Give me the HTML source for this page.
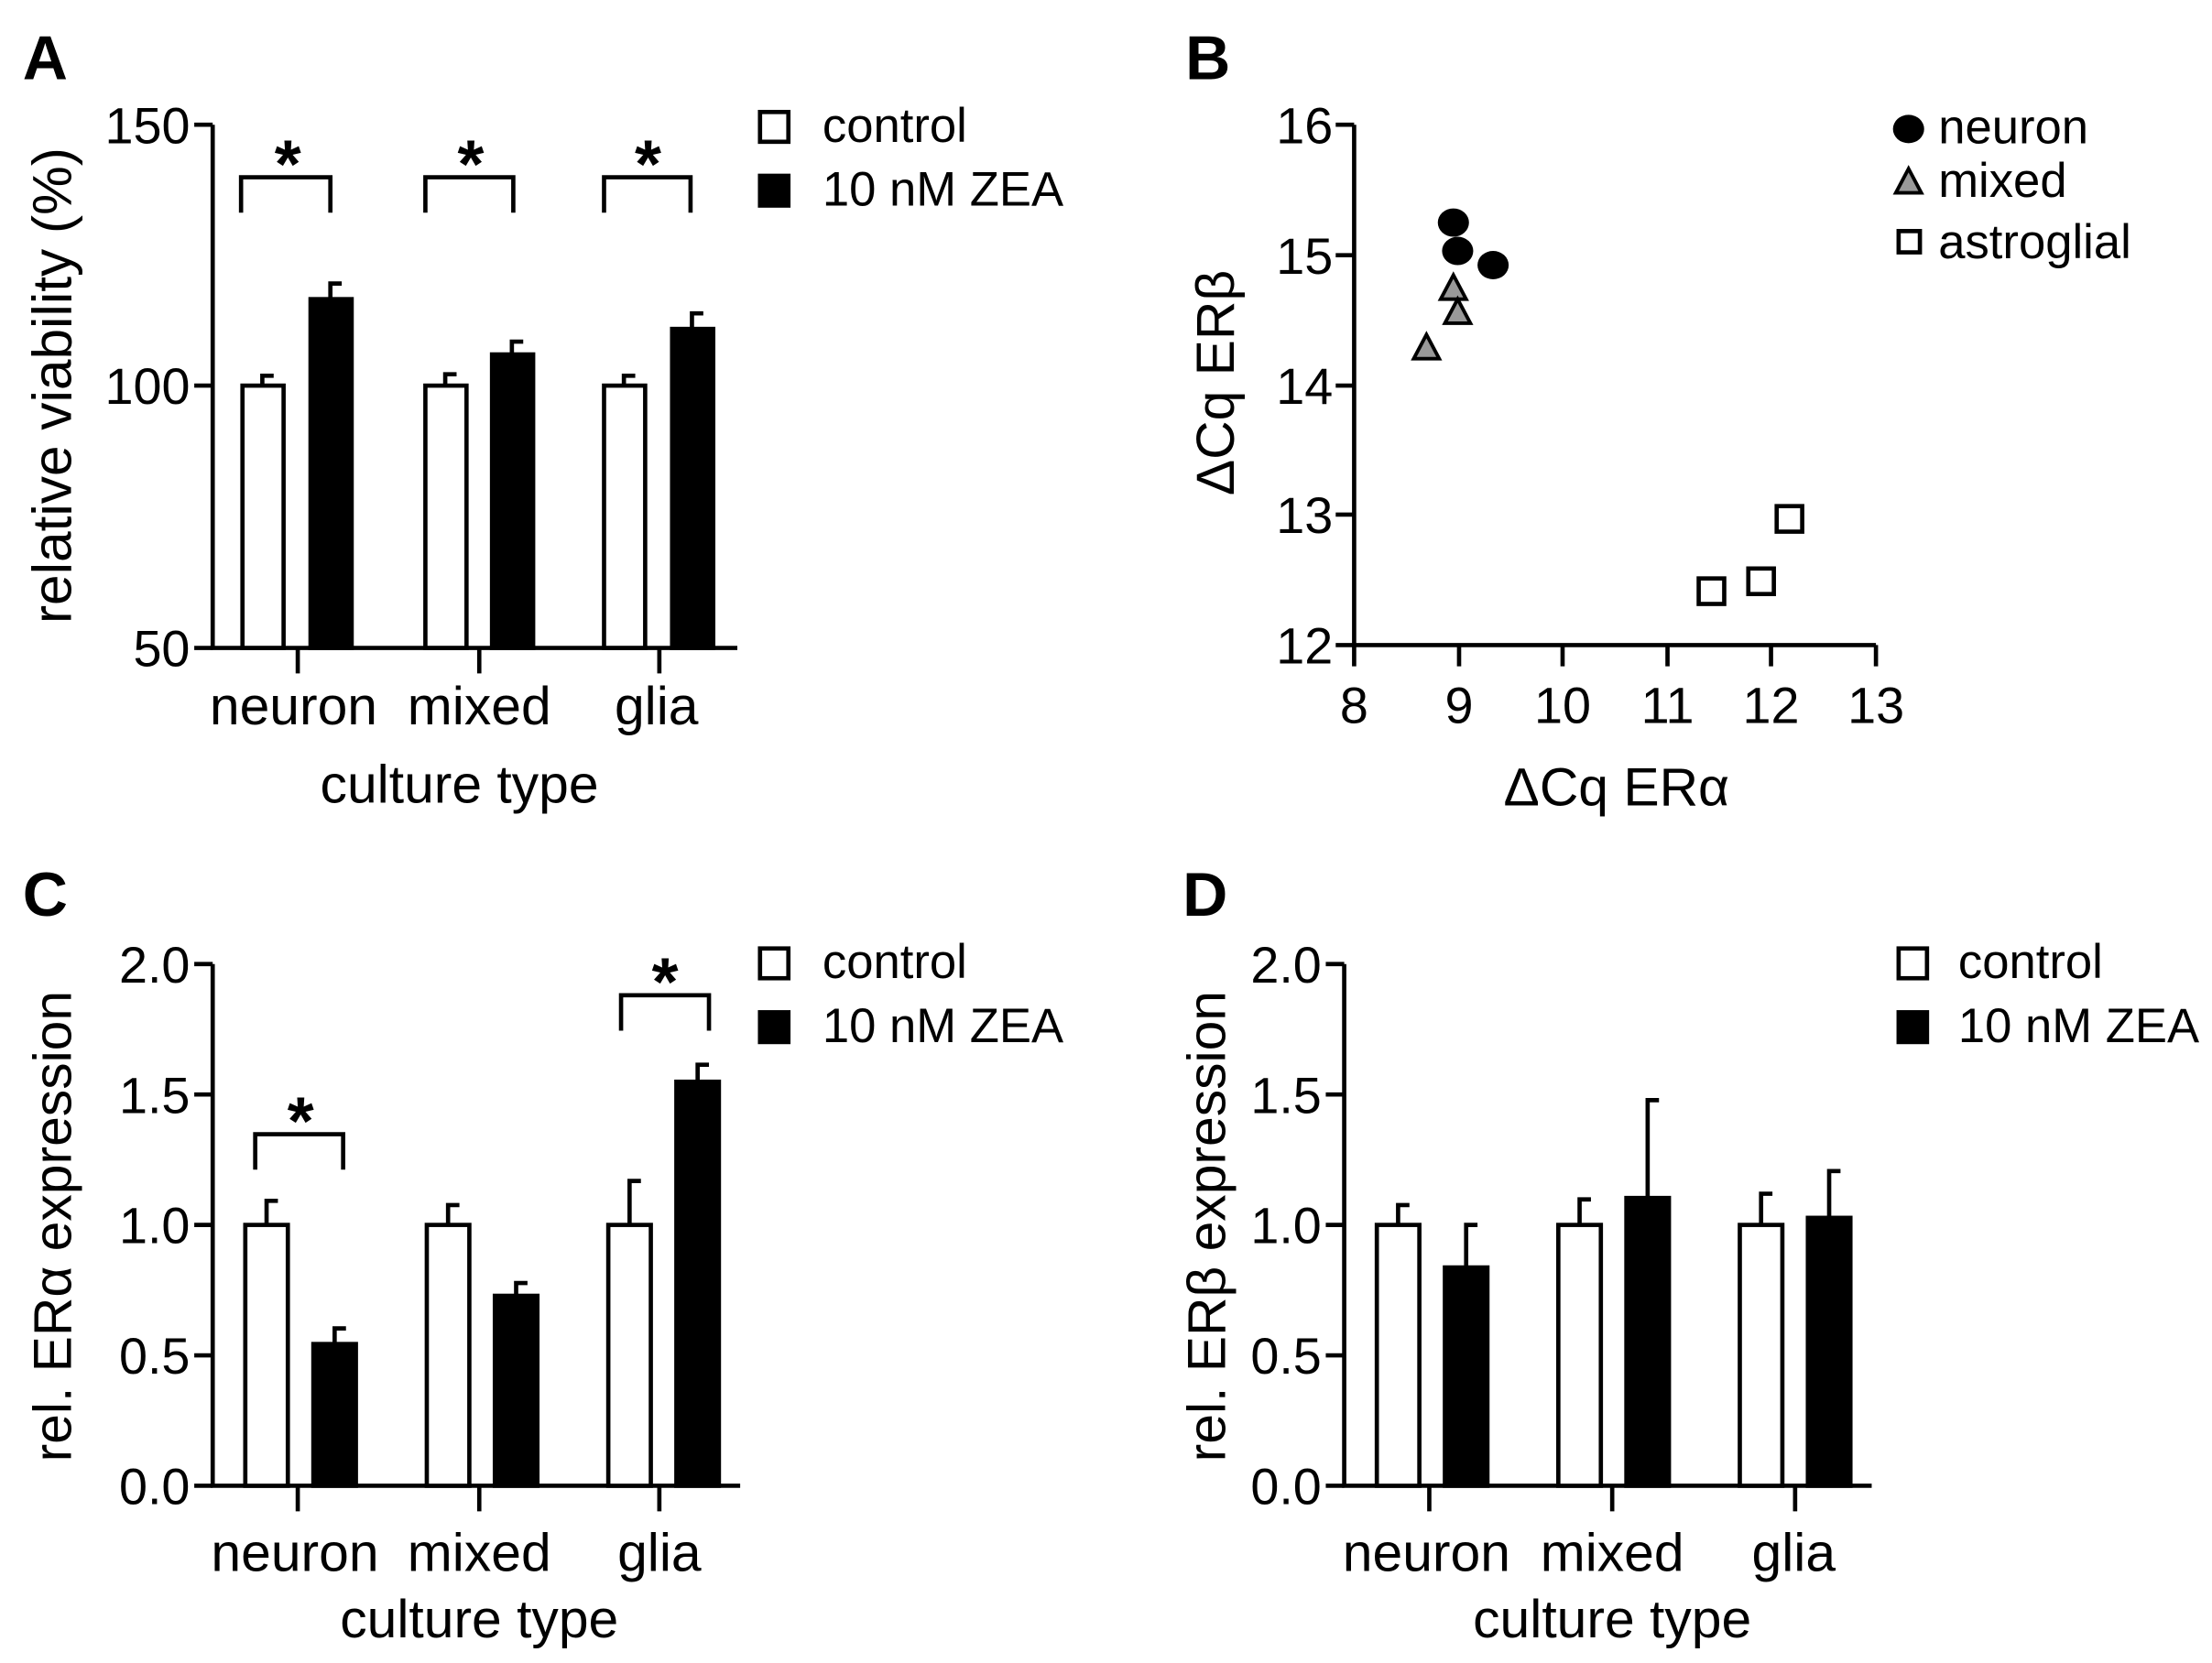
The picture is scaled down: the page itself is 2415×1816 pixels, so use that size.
<!DOCTYPE html>
<html><head><style>html,body{margin:0;padding:0;background:#fff}svg{display:block}</style></head>
<body>
<svg width="2415" height="1816" viewBox="0 0 1560 1173" preserveAspectRatio="none" xmlns="http://www.w3.org/2000/svg" font-family="Liberation Sans, Arial, sans-serif">
<g stroke="#000" stroke-width="3" fill="none">
<!-- Panel A -->
<path d="M150,88 V457 H520"/>
<path d="M137,88H150 M137,272H150 M137,457H150"/>
<path d="M210,457V475 M338,457V475 M465,457V475"/>
<rect x="171" y="272" width="29" height="185" fill="#fff"/>
<rect x="219" y="211" width="29" height="246" fill="#000"/>
<rect x="300" y="272" width="29" height="185" fill="#fff"/>
<rect x="347" y="250" width="29" height="207" fill="#000"/>
<rect x="426" y="272" width="29" height="185" fill="#fff"/>
<rect x="474" y="232" width="29" height="225" fill="#000"/>
<path d="M185,272V265H193 M233,211V200H241 M314,272V264H322 M361,250V241H369 M440,272V265H448 M488,232V221H496"/>
<path d="M170,150V125H233V150 M300,150V125H362V150 M426,150V125H487V150"/>
<rect x="536" y="79" width="20" height="21" fill="#fff"/>
<rect x="536" y="124" width="20" height="21" fill="#000"/>
<!-- Panel B -->
<path d="M955,88 V455 H1323"/>
<path d="M942,88H955 M942,180H955 M942,272H955 M942,363H955 M942,455H955"/>
<path d="M955,455V470 M1029,455V470 M1102,455V470 M1176,455V470 M1249,455V470 M1323,455V470"/>
<rect x="1198" y="408" width="18" height="18" fill="#fff"/>
<rect x="1233" y="401" width="18" height="18" fill="#fff"/>
<rect x="1253" y="357" width="18" height="18" fill="#fff"/>
<rect x="1339" y="163" width="15" height="15" fill="#fff"/>
<!-- Panel C -->
<path d="M150,680 V1048 H522"/>
<path d="M137,680H150 M137,772H150 M137,864H150 M137,956H150 M137,1048H150"/>
<path d="M210,1048V1066 M338,1048V1066 M465,1048V1066"/>
<rect x="173" y="864" width="30" height="184" fill="#fff"/>
<rect x="221" y="948" width="30" height="100" fill="#000"/>
<rect x="301" y="864" width="30" height="184" fill="#fff"/>
<rect x="349" y="914" width="30" height="134" fill="#000"/>
<rect x="429" y="864" width="30" height="184" fill="#fff"/>
<rect x="477" y="763" width="30" height="285" fill="#000"/>
<path d="M188,864V847H196 M236,948V937H244 M316,864V850H324 M364,914V905H372 M444,864V833H452 M492,763V751H500"/>
<path d="M180,825V800H242V825 M438,727V702H500V727"/>
<rect x="536" y="669" width="20" height="21" fill="#fff"/>
<rect x="536" y="714" width="20" height="21" fill="#000"/>
<!-- Panel D -->
<path d="M948,680 V1048 H1320"/>
<path d="M935,680H948 M935,772H948 M935,864H948 M935,956H948 M935,1048H948"/>
<path d="M1008,1048V1066 M1137,1048V1066 M1266,1048V1066"/>
<rect x="971" y="864" width="30" height="184" fill="#fff"/>
<rect x="1019" y="894" width="30" height="154" fill="#000"/>
<rect x="1099" y="864" width="30" height="184" fill="#fff"/>
<rect x="1147" y="845" width="30" height="203" fill="#000"/>
<rect x="1227" y="864" width="30" height="184" fill="#fff"/>
<rect x="1275" y="859" width="30" height="189" fill="#000"/>
<path d="M986,864V850H994 M1034,894V864H1042 M1114,864V846H1122 M1162,845V776H1170 M1242,864V842H1250 M1290,859V826H1298"/>
<rect x="1339" y="669" width="20" height="21" fill="#fff"/>
<rect x="1339" y="714" width="20" height="21" fill="#000"/>
</g>
<!-- B markers -->
<g fill="#000">
<ellipse cx="1025" cy="157" rx="11" ry="10"/>
<ellipse cx="1028" cy="177" rx="11" ry="10"/>
<ellipse cx="1053" cy="187" rx="11" ry="10"/>
<ellipse cx="1346" cy="91" rx="11" ry="10"/>
</g>
<g fill="#999" stroke="#000" stroke-width="2.5">
<path d="M1025,194 L1034,211 L1016,211Z"/>
<path d="M1028,211 L1037,228 L1019,228Z"/>
<path d="M1006,236 L1015,253 L997,253Z"/>
<path d="M1346,119 L1355,136 L1337,136Z"/>
</g>
<g font-size="36" fill="#000">
<!-- A -->
<text x="16" y="56" font-size="44" font-weight="bold">A</text>
<g text-anchor="end"><text x="134" y="101">150</text><text x="134" y="285">100</text><text x="134" y="470">50</text></g>
<g text-anchor="middle" font-size="38"><text x="207" y="511">neuron</text><text x="338" y="511">mixed</text><text x="463" y="511">glia</text><text x="324" y="566">culture type</text></g>
<text transform="translate(50,272) rotate(-90)" text-anchor="middle" font-size="39">relative viability (%)</text>
<g font-size="48" font-weight="bold" text-anchor="middle"><text x="203" y="132">*</text><text x="332" y="132">*</text><text x="457" y="132">*</text></g>
<text x="580" y="100" font-size="34">control</text><text x="580" y="145" font-size="34">10 nM ZEA</text>
<!-- B -->
<text x="836" y="56" font-size="44" font-weight="bold">B</text>
<g text-anchor="end"><text x="940" y="101">16</text><text x="940" y="193">15</text><text x="940" y="285">14</text><text x="940" y="376">13</text><text x="940" y="468">12</text></g>
<g text-anchor="middle"><text x="955" y="510">8</text><text x="1029" y="510">9</text><text x="1102" y="510">10</text><text x="1176" y="510">11</text><text x="1249" y="510">12</text><text x="1323" y="510">13</text><text x="1140" y="568" font-size="38">ΔCq ERα</text></g>
<text transform="translate(870,270) rotate(-90)" text-anchor="middle" font-size="38">ΔCq ERβ</text>
<text x="1367" y="101" font-size="34">neuron</text><text x="1367" y="139" font-size="34">mixed</text><text x="1367" y="182" font-size="34">astroglial</text>
<!-- C -->
<text x="16" y="646" font-size="44" font-weight="bold">C</text>
<g text-anchor="end"><text x="134" y="693">2.0</text><text x="134" y="785">1.5</text><text x="134" y="877">1.0</text><text x="134" y="969">0.5</text><text x="134" y="1061">0.0</text></g>
<g text-anchor="middle" font-size="38"><text x="208" y="1108">neuron</text><text x="338" y="1108">mixed</text><text x="465" y="1108">glia</text><text x="338" y="1155">culture type</text></g>
<text transform="translate(50,865) rotate(-90)" text-anchor="middle" font-size="38">rel. ERα expression</text>
<g font-size="48" font-weight="bold" text-anchor="middle"><text x="212" y="807">*</text><text x="469" y="709">*</text></g>
<text x="580" y="690" font-size="34">control</text><text x="580" y="735" font-size="34">10 nM ZEA</text>
<!-- D -->
<text x="834" y="646" font-size="44" font-weight="bold">D</text>
<g text-anchor="end"><text x="932" y="693">2.0</text><text x="932" y="785">1.5</text><text x="932" y="877">1.0</text><text x="932" y="969">0.5</text><text x="932" y="1061">0.0</text></g>
<g text-anchor="middle" font-size="38"><text x="1006" y="1108">neuron</text><text x="1137" y="1108">mixed</text><text x="1265" y="1108">glia</text><text x="1137" y="1155">culture type</text></g>
<text transform="translate(864,865) rotate(-90)" text-anchor="middle" font-size="38">rel. ERβ expression</text>
<text x="1381" y="690" font-size="34">control</text><text x="1381" y="735" font-size="34">10 nM ZEA</text>
</g>
</svg>
</body></html>
